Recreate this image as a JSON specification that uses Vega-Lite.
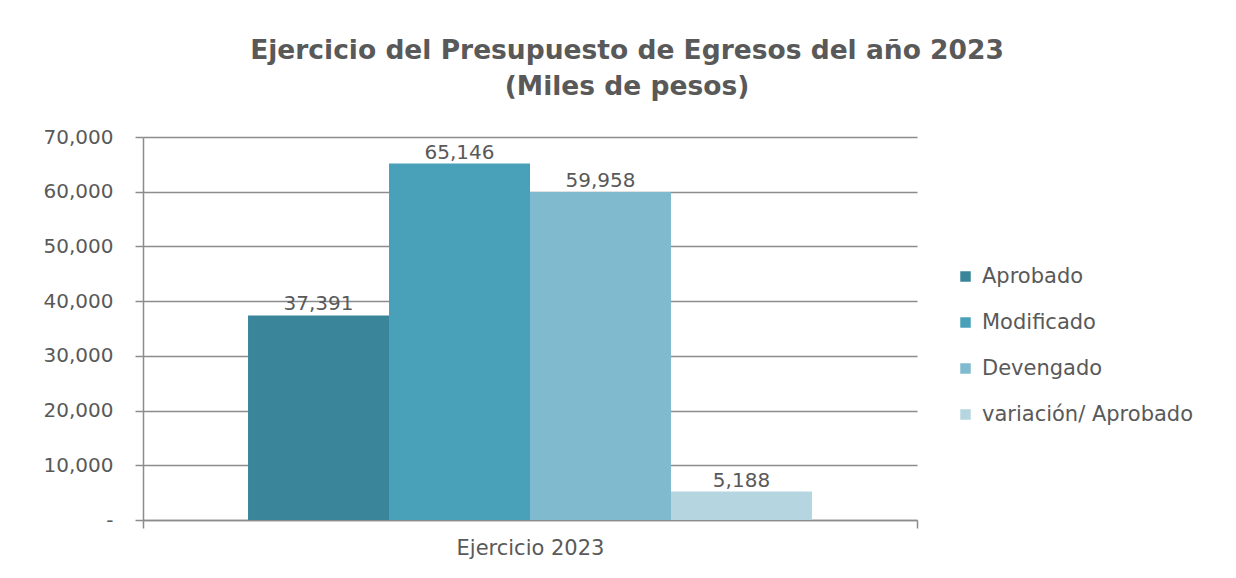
{
  "$schema": "https://vega.github.io/schema/vega-lite/v6.json",
  "width": 774,
  "height": 383,
  "autosize": {"type": "none"},
  "padding": {"left": 143, "top": 137, "right": 319, "bottom": 58},
  "background": "white",
  "title": {
    "text": ["Ejercicio del Presupuesto de Egresos del año 2023", "(Miles de pesos)"],
    "font": "DejaVu Sans",
    "fontSize": 26.5,
    "fontWeight": "bold",
    "color": "#595959",
    "anchor": "middle",
    "dx": 97,
    "offset": 27,
    "lineHeight": 36
  },
  "data": {
    "values": [
      {"ejercicio": "Ejercicio 2023", "serie": "Aprobado", "valor": 37391},
      {"ejercicio": "Ejercicio 2023", "serie": "Modificado", "valor": 65146},
      {"ejercicio": "Ejercicio 2023", "serie": "Devengado", "valor": 59958},
      {"ejercicio": "Ejercicio 2023", "serie": "variación/ Aprobado", "valor": 5188}
    ]
  },
  "encoding": {
    "x": {
      "field": "ejercicio",
      "type": "nominal",
      "scale": {"paddingInner": 0, "paddingOuter": 0},
      "axis": {
        "title": null,
        "labelAngle": 0,
        "labelFont": "DejaVu Sans",
        "labelFontSize": 21,
        "labelColor": "#595959",
        "labelPadding": 9,
        "tickBand": "extent",
        "tickSize": 8,
        "tickColor": "#8c8c8c",
        "tickWidth": 1.5,
        "domainColor": "#8c8c8c",
        "domainWidth": 1.5
      }
    },
    "xOffset": {
      "field": "serie",
      "type": "nominal",
      "sort": ["Aprobado", "Modificado", "Devengado", "variación/ Aprobado"],
      "scale": {"paddingInner": 0, "paddingOuter": 0.745}
    },
    "y": {
      "field": "valor",
      "type": "quantitative",
      "scale": {"domain": [0, 70000], "nice": false},
      "axis": {
        "title": null,
        "values": [0, 10000, 20000, 30000, 40000, 50000, 60000, 70000],
        "labelExpr": "datum.value == 0 ? '-' : format(datum.value, ',')",
        "labelFont": "DejaVu Sans",
        "labelFontSize": 20,
        "labelColor": "#595959",
        "labelPadding": 22,
        "tickSize": 8,
        "tickColor": "#8c8c8c",
        "tickWidth": 1.5,
        "domainColor": "#8c8c8c",
        "domainWidth": 1.5,
        "grid": true,
        "gridColor": "#8c8c8c",
        "gridWidth": 1.5
      }
    }
  },
  "layer": [
    {
      "mark": {"type": "bar"},
      "encoding": {
        "color": {
          "field": "serie",
          "type": "nominal",
          "scale": {
            "domain": ["Aprobado", "Modificado", "Devengado", "variación/ Aprobado"],
            "range": ["#3a8599", "#48a1b9", "#7fbacf", "#b5d5e0"]
          },
          "legend": {
            "title": null,
            "orient": "none",
            "legendX": 812,
            "legendY": 129,
            "symbolType": "square",
            "symbolSize": 110,
            "symbolStrokeWidth": 0,
            "labelFont": "DejaVu Sans",
            "labelFontSize": 21,
            "labelColor": "#595959",
            "labelOffset": 6,
            "labelLimit": 400,
            "rowPadding": 24
          }
        }
      }
    },
    {
      "mark": {
        "type": "text",
        "baseline": "alphabetic",
        "dy": -5,
        "font": "DejaVu Sans",
        "fontSize": 20,
        "color": "#595959"
      },
      "encoding": {
        "text": {"field": "valor", "type": "quantitative", "format": ","}
      }
    }
  ],
  "config": {"view": {"stroke": null}}
}
